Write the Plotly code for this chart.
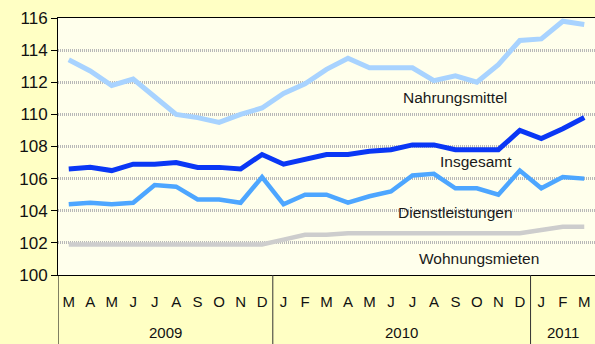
import plotly.graph_objects as go

months = ["M", "A", "M", "J", "J", "A", "S", "O", "N", "D",
          "J", "F", "M", "A", "M", "J", "J", "A", "S", "O", "N", "D",
          "J", "F", "M"]
years = ["2009", "2010", "2011"]
year_spans = [(0, 9), (10, 21), (22, 24)]

nahrungsmittel = [113.4, 112.7, 111.8, 112.2, 111.1, 110.0, 109.8, 109.5, 110.0, 110.4,
                  111.3, 111.9, 112.8, 113.5, 112.9, 112.9, 112.9, 112.1, 112.4, 112.0,
                  113.1, 114.6, 114.7, 115.8, 115.6]
insgesamt = [106.6, 106.7, 106.5, 106.9, 106.9, 107.0, 106.7, 106.7, 106.6, 107.5,
             106.9, 107.2, 107.5, 107.5, 107.7, 107.8, 108.1, 108.1, 107.8, 107.8,
             107.8, 109.0, 108.5, 109.1, 109.8]
dienstleistungen = [104.4, 104.5, 104.4, 104.5, 105.6, 105.5, 104.7, 104.7, 104.5, 106.1,
                    104.4, 105.0, 105.0, 104.5, 104.9, 105.2, 106.2, 106.3, 105.4, 105.4,
                    105.0, 106.5, 105.4, 106.1, 106.0]
wohnungsmieten = [101.9, 101.9, 101.9, 101.9, 101.9, 101.9, 101.9, 101.9, 101.9, 101.9,
                  102.2, 102.5, 102.5, 102.6, 102.6, 102.6, 102.6, 102.6, 102.6, 102.6,
                  102.6, 102.6, 102.8, 103.0, 103.0]

series = [
    ("Nahrungsmittel", nahrungsmittel, "#A8D3FF", 5),
    ("Insgesamt", insgesamt, "#0A37F5", 5),
    ("Dienstleistungen", dienstleistungen, "#4DA6FF", 4.5),
    ("Wohnungsmieten", wohnungsmieten, "#CDCDCD", 4.5),
]
# series labels: (category position, value)
label_pos = {
    "Nahrungsmittel": (18.0, 111.05),
    "Insgesamt": (18.95, 107.05),
    "Dienstleistungen": (18.0, 103.9),
    "Wohnungsmieten": (19.1, 101.0),
}

FONT = "Arial, Liberation Sans, sans-serif"
x = list(range(len(months)))
fig = go.Figure()
for name, vals, color, w in series:
    fig.add_trace(go.Scatter(x=x, y=vals, mode="lines", name=name,
                             line=dict(color=color, width=w), showlegend=False))

annotations = []
for name, (px, py) in label_pos.items():
    annotations.append(dict(x=px, y=py, xref="x", yref="y", text=name, showarrow=False,
                            font=dict(family=FONT, size=15.5, color="#1a1a1a")))

shapes = []
below = -69 / 257
for i, (a, b) in enumerate(year_spans):
    annotations.append(dict(x=(a + b) / 2, y=-57 / 257, xref="x", yref="paper", text=years[i],
                            showarrow=False, yanchor="middle",
                            font=dict(family=FONT, size=15, color="#111")))
for sep in [-0.5, 9.5, 21.5]:
    shapes.append(dict(type="line", xref="x", yref="paper", x0=sep, x1=sep, y0=0, y1=below,
                       line=dict(color="#333" if sep > 0 else "#000", width=1)))

fig.update_layout(
    width=595, height=344,
    margin=dict(l=58, r=0, t=18, b=69),
    paper_bgcolor="#FFFFC4",
    plot_bgcolor="#FFFFEC",
    annotations=annotations,
    shapes=shapes,
    xaxis=dict(range=[-0.5, 24.5], tickvals=x, ticktext=months, showgrid=False,
               zeroline=False, showline=True, linecolor="#000", linewidth=1, mirror=True,
               ticks="", ticklabelstandoff=13,
               tickfont=dict(family=FONT, size=15, color="#111")),
    yaxis=dict(range=[100, 116], tickvals=list(range(100, 117, 2)), showgrid=True,
               gridcolor="#B8B8B8", griddash="1px,1px", gridwidth=2.5, zeroline=False,
               showline=True, linecolor="#000", linewidth=1, ticks="outside",
               ticklen=6, tickcolor="#000",
               tickfont=dict(family=FONT, size=17, color="#111")),
)

fig.write_html("out.html")
